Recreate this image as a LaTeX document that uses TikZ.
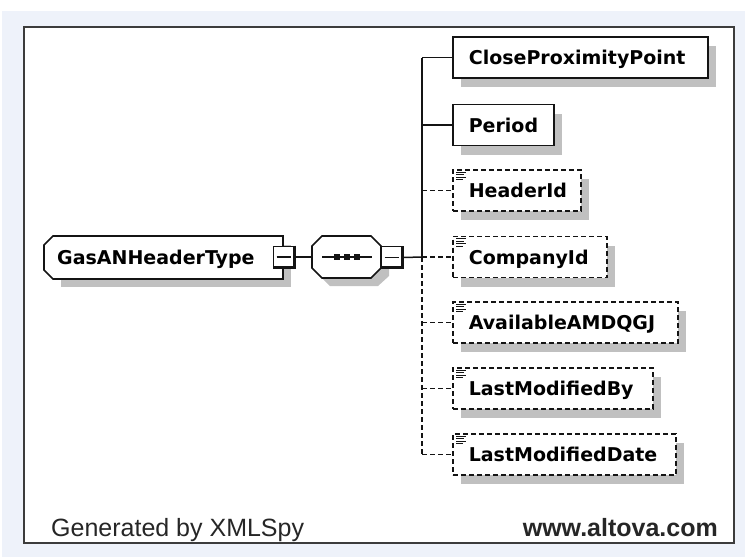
\documentclass[tikz,border=0pt]{standalone}
\usepackage{fontspec}
\setmainfont{Liberation Sans}
\newfontfamily\labelfont{DejaVu Sans}
\usetikzlibrary{shadows}
\definecolor{bgblue}{RGB}{238,242,250}
\definecolor{shadowgray}{RGB}{192,192,192}
\definecolor{linecol}{RGB}{20,20,20}
\definecolor{framecol}{RGB}{60,60,60}
\tikzset{
  boxshadow/.style={drop shadow={fill=shadowgray, opacity=1, shadow xshift=8pt, shadow yshift=-9pt}},
  elembox/.style={draw=linecol, line width=1.6pt, fill=white, anchor=west,
    minimum height=41pt, inner xsep=16pt, inner ysep=0pt, text height=14pt, text depth=0pt,
    align=left, font=\labelfont\bfseries\fontsize{19}{19}\selectfont, boxshadow},
  optbox/.style={elembox, line width=1.6pt, dash pattern=on 5pt off 3pt},
  conn/.style={draw=linecol, line width=1.5pt},
  optconn/.style={conn, dash pattern=on 5pt off 3pt},
  iconline/.style={draw=linecol, line width=0.9pt},
  minusbox/.style={draw=linecol, line width=1pt, fill=white, minimum width=22pt, minimum height=22pt, inner sep=0pt},
  footer/.style={text=black!85, inner sep=0pt, font=\fontsize{25}{25}\selectfont},
}
\begin{document}
\begin{tikzpicture}[x=1pt, y=-1pt]
\useasboundingbox (0,0) rectangle (745,557);
\fill[white] (0,0) rectangle (745,557);
\fill[bgblue] (2,11) rectangle (745,557);
\draw[framecol, line width=2pt, fill=white] (24,27) rectangle (734,543);

% root element GasANHeaderType
\fill[shadowgray] (61,245) -- (291,245) -- (291,287) -- (61,287) -- cycle;
\draw[linecol, line width=1.6pt, fill=white] (53,236) -- (283,236) -- (283,279) -- (53,279) -- (44,270) -- (44,245) -- cycle;
\node[anchor=west, inner sep=0pt, text height=14pt, text depth=0pt, font=\labelfont\bfseries\fontsize{19}{19}\selectfont] (gas) at (57,257.5) {GasANHeaderType};
\node[minusbox] (gm) at (284,257) {};
\draw[linecol, line width=2.6pt] ([xshift=-1.3pt]gm.north east) -- ([xshift=-1.3pt, yshift=1.3pt]gm.south east) -- ([yshift=1.3pt]gm.south west);
\draw[linecol, line width=1.2pt] ([xshift=4pt]gm.west) -- ([xshift=-5pt]gm.east);

% sequence compositor
\fill[shadowgray] (330,245) -- (378,245) -- (389,256) -- (389,276) -- (378,286) -- (330,286) -- (320,276) -- (320,256) -- cycle;
\node[inner sep=0pt, minimum width=69pt, minimum height=42pt] (seq) at (346.5,257) {};
\draw[linecol, line width=1.6pt, fill=white] (322,236) -- (371,236) -- (381,246) -- (381,268) -- (371,278) -- (322,278) -- (312,268) -- (312,246) -- cycle;
\draw[linecol, line width=1.3pt] (322,257) -- (372,257);
\foreach \dx in {337,347,357} \fill[linecol] (\dx-2.6,254.4) rectangle (\dx+2.6,259.6);
\node[minusbox] (sm) at (392,257.5) {};
\draw[linecol, line width=2.6pt] ([xshift=-1.3pt]sm.north east) -- ([xshift=-1.3pt, yshift=1.3pt]sm.south east) -- ([yshift=1.3pt]sm.south west);
\draw[linecol, line width=1.2pt] ([xshift=4pt]sm.west) -- ([xshift=-5pt]sm.east);

\draw[conn] (gm.east) -- (seq.west);
\coordinate (j) at (422,257);
\draw[conn] (sm.east) -- (j);

% children
\node[elembox, text width=223pt] (cpp) at (452,57.5) {CloseProximityPoint};
\node[elembox, text width=69pt] (per) at (452,125) {Period};
\node[optbox, text width=96pt] (hid) at (452,190.5) {HeaderId};
\node[optbox, text width=122pt] (cid) at (452,257) {CompanyId};
\node[optbox, text width=193pt] (ava) at (452,322.5) {AvailableAMDQGJ};
\node[optbox, text width=168pt] (lmb) at (452,388.5) {LastModifiedBy};
\node[optbox, text width=191pt] (lmd) at (452,454.5) {LastModifiedDate};

\foreach \n in {hid,cid,ava,lmb,lmd}{
  \draw[iconline] ([xshift=4pt,yshift=-3pt]\n.north west) -- ++(10,0);
  \draw[iconline] ([xshift=4pt,yshift=-5.5pt]\n.north west) -- ++(8,0);
  \draw[iconline] ([xshift=4pt,yshift=-8pt]\n.north west) -- ++(10,0);
  \draw[iconline] ([xshift=4pt,yshift=-10.5pt]\n.north west) -- ++(7,0);
}

\coordinate (vtop) at (422,57.5);
\coordinate (vbot) at (422,454.5);
\draw[conn] (vtop) -- (j);
\draw[optconn] (j) -- (vbot);
\draw[conn] (vtop) -- (cpp.west);
\draw[conn] (422,125) -- (per.west);
\foreach \n in {hid,cid,ava,lmb,lmd}
  \draw[optconn] (\n.west -| j) -- (\n.west);

% footer
\node[footer, anchor=base west] (gen) at (51,536) {Generated by XMLSpy};
\node[footer, anchor=base east, font=\bfseries\fontsize{25}{25}\selectfont] (alt) at (718,536) {www.altova.com};
\end{tikzpicture}
\end{document}
